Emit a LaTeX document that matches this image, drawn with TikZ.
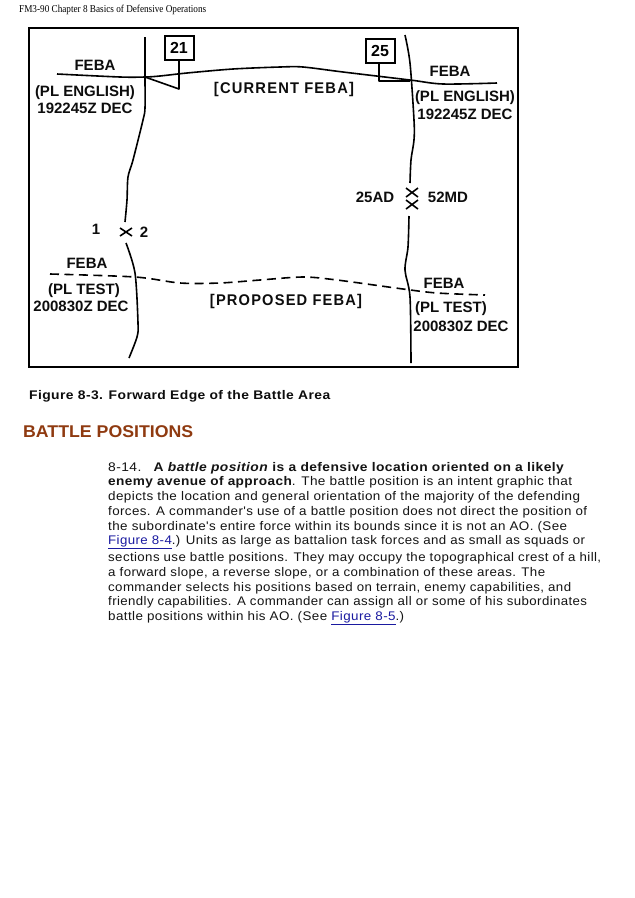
\documentclass[tikz,border=0pt]{standalone}
\usepackage{fontspec}
\usepackage{graphicx}
\setmainfont{Liberation Sans}
\newfontfamily\hdrfont{Liberation Serif}
\newfontfamily\bodyfont[LetterSpace=3]{Liberation Sans}
\newfontfamily\capsfont[LetterSpace=8]{Liberation Sans}
\definecolor{headbrown}{HTML}{8F3A10}
\definecolor{linkblue}{HTML}{1A1AA0}
\newcommand{\fitw}[2]{\resizebox{#1pt}{\height}{#2}}
\newcommand{\lnk}[1]{\textcolor{linkblue}{\underline{#1}}}
\tikzset{
  x=1pt,y=-1pt,
  maplabel/.style={font=\bfseries\fontsize{15}{17}\selectfont,inner sep=0pt,text=black!95},
  spaced/.style={font=\bfseries\capsfont\fontsize{15.5}{17}\selectfont,inner sep=0pt,text=black!95},
  flagbox/.style={draw,line width=2pt,fill=white,inner sep=0pt,minimum width=29pt,minimum height=24pt,font=\bfseries\fontsize{16}{18}\selectfont},
  mapline/.style={line width=1.6pt,line join=round},
  dashline/.style={line width=1.6pt,dash pattern=on 9pt off 5.5pt},
  echelon/.style={line width=1.6pt},
  bodyline/.style={anchor=base west,inner sep=0pt,font=\bodyfont\fontsize{12.5}{14}\selectfont,text=black!92}
}
\begin{document}
\begin{tikzpicture}
\useasboundingbox[fill=white] (0,0) rectangle (635,898);
% header
\node[anchor=base west,inner sep=0pt,font=\hdrfont\fontsize{10.5}{12}\selectfont] (hdr) at (19,12) {\fitw{187}{FM3-90 Chapter 8 Basics of Defensive Operations}};
% frame
\draw[line width=2.2pt] (29,28) rectangle (518,367);
% FEBA current
\draw[mapline] plot[smooth,tension=0.5] coordinates {(57,74) (120,77) (145,77) (160,76) (187,73) (233,69) (280,67) (303,67) (343,72) (410,80) (443,84) (497,83)};
% boundaries
\draw[mapline] plot[smooth,tension=0.5] coordinates {(145,37) (145,77) (145,108) (143,120) (133,160) (128,177) (127,200) (125,222)};
\draw[mapline] plot[smooth,tension=0.5] coordinates {(126,243) (135,273) (138,323) (137,337) (129,358)};
\draw[mapline] plot[smooth,tension=0.5] coordinates {(405,35) (410,63) (414,120) (414,140) (411,160) (410,183)};
\draw[mapline] plot[smooth,tension=0.5] coordinates {(409,216) (408,247) (405,270) (410,297) (411,363)};
% FEBA proposed
\draw[dashline] plot[smooth,tension=0.5] coordinates {(50,274) (135,277) (180,283) (220,283) (260,280) (303,277) (337,280) (403,289) (437,293) (485,295)};
% echelons
\draw[echelon] (120,228) -- (132,236) (120,236) -- (132,228);
\draw[echelon] (406,188) -- (418,197) (406,197) -- (418,188);
\draw[echelon] (406,200) -- (418,209) (406,209) -- (418,200);
% flags
\node[flagbox] (f21) at (179,47.5) {21};
\node[flagbox] (f25) at (380,51) {25};
\coordinate (t21) at (179,89);
\coordinate (j21) at (145,77);
\coordinate (t25) at (379,81);
\coordinate (j25) at (410,81);
\draw[mapline] (f21.south) -- (t21) -- (j21);
\draw[mapline] (f25.south -| t25) -- (t25) -- (j25);
% labels
\node[maplabel] (a1) at (95,65) {FEBA};
\node[maplabel] (a2) at (85,93) {(PL ENGLISH)};
\node[maplabel] (a3) at (85,108) {192245Z DEC};
\node[spaced] (cur) at (284,89) {\fitw{140}{[CURRENT FEBA]}};
\node[maplabel] (b1) at (450,71) {FEBA};
\node[maplabel] (b2) at (465,98) {(PL ENGLISH)};
\node[maplabel] (b3) at (465,114) {192245Z DEC};
\node[maplabel] (c1) at (375,197) {25AD};
\node[maplabel] (c2) at (448,197) {52MD};
\node[maplabel] (d1) at (96,229) {1};
\node[maplabel] (d2) at (144,232) {2};
\node[maplabel] (e1) at (87,263) {FEBA};
\node[maplabel] (e2) at (84,291) {(PL TEST)};
\node[maplabel] (e3) at (81,306) {200830Z DEC};
\node[spaced] (prop) at (286,301) {\fitw{152}{[PROPOSED FEBA]}};
\node[maplabel] (g1) at (444,283) {FEBA};
\node[maplabel] (g2) at (451,309) {(PL TEST)};
\node[maplabel] (g3) at (461,326) {200830Z DEC};
% caption and heading
\node[anchor=base west,inner sep=0pt,font=\bfseries\bodyfont\fontsize{12.5}{14}\selectfont,text=black!95] (cap) at (29,399.5) {\fitw{301}{Figure 8-3. Forward Edge of the Battle Area}};
\node[anchor=base west,inner sep=0pt,font=\bfseries\fontsize{17}{19}\selectfont,text=headbrown] (head) at (23,437) {\fitw{170}{BATTLE POSITIONS}};
% body
\node[bodyline] (l1) at (108,471) {\fitw{456}{8-14.\hspace{6pt} \textbf{A \textit{battle position} is a defensive location oriented on a likely}}};
\node[bodyline] (l2) at (108,485.5) {\fitw{464}{\textbf{enemy avenue of approach}. The battle position is an intent graphic that}};
\node[bodyline] (l3) at (108,500.5) {\fitw{472}{depicts the location and general orientation of the majority of the defending}};
\node[bodyline] (l4) at (108,515) {\fitw{479}{forces. A commander's use of a battle position does not direct the position of}};
\node[bodyline] (l5) at (108,530) {\fitw{459}{the subordinate's entire force within its bounds since it is not an AO. (See}};
\node[bodyline] (l6) at (108,544.5) {\fitw{477}{\lnk{Figure 8-4}.) Units as large as battalion task forces and as small as squads or}};
\node[bodyline] (l7) at (108,561.5) {\fitw{493}{sections use battle positions. They may occupy the topographical crest of a hill,}};
\node[bodyline] (l8) at (108,576.5) {\fitw{437}{a forward slope, a reverse slope, or a combination of these areas. The}};
\node[bodyline] (l9) at (108,591) {\fitw{463}{commander selects his positions based on terrain, enemy capabilities, and}};
\node[bodyline] (l10) at (108,605.5) {\fitw{479}{friendly capabilities. A commander can assign all or some of his subordinates}};
\node[bodyline] (l11) at (108,620.5) {\fitw{296}{battle positions within his AO. (See \lnk{Figure 8-5}.)}};
\end{tikzpicture}
\end{document}
